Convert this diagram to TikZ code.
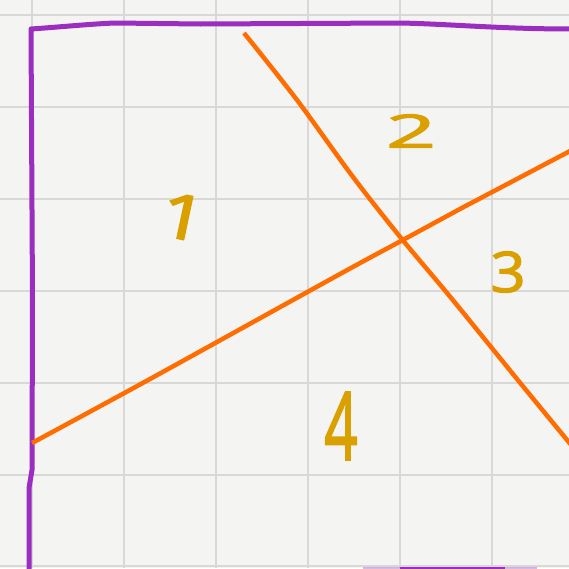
\documentclass[tikz,border=0pt]{standalone}
\usepackage{fontspec}
\setmainfont{Open Sans}
\newfontfamily\hand[FakeBold=2.2]{Open Sans}
\definecolor{paper}{HTML}{F4F4F2}
\definecolor{gridc}{HTML}{D8D8D6}
\definecolor{frame}{HTML}{9B2DC0}
\definecolor{cut}{HTML}{FF6C00}
\definecolor{lab}{HTML}{D9A000}
\begin{document}
\begin{tikzpicture}[x=1pt,y=-1pt,
  gridline/.style={draw=gridc,line width=2.4pt},
  frameline/.style={draw=frame,line width=5pt,line cap=round,line join=round},
  cutline/.style={draw=cut,line width=4.5pt,line cap=butt},
  digit/.style={text=lab,inner sep=0pt,transform shape}]
\path[fill=paper] (0,0) rectangle (569,568);
\useasboundingbox (0,0) rectangle (569,568);
% grid
\foreach \gx in {32,124,216,308,400,492}
  \draw[gridline] (\gx,0) -- (\gx,568);
\foreach \gy in {15,107,199,291,383,475,566}
  \draw[gridline] (0,\gy) -- (569,\gy);
% frame
\draw[frameline] (29,570) -- (29,488) -- (32,470) -- (32.5,300) -- (31,29)
  .. controls (60,27) and (90,24) .. (115,23) -- (200,24) -- (400,23)
  .. controls (450,24) and (500,29) .. (572,29);
\draw[draw=frame,line width=3pt,opacity=0.35] (363,568) -- (400,568);
\draw[draw=frame,line width=3pt] (400,568) -- (505,568);
\draw[draw=frame,line width=3pt,opacity=0.35] (505,568) -- (537,568);
% cuts
\draw[cutline] plot[smooth,tension=0.5] coordinates {(244,33) (297,100) (353,177) (401,238) (452,299) (517,379) (572,446)};
\draw[cutline] plot[smooth,tension=0.5] coordinates {(32,443) (150,379) (340,274) (401,241) (460,209) (477,200) (572,150)};
% labels
\node[digit,font=\hand\fontsize{62}{62}\selectfont,rotate=-12,xscale=1.3] (l1) at (183,217) {1};
\node[digit,font=\hand\fontsize{46}{46}\selectfont,xscale=1.9] (l2) at (411,131) {2};
\node[digit,font=\hand\fontsize{56}{56}\selectfont,xscale=1.1] (l3) at (508,272) {3};
\node[digit,font=\hand\fontsize{94}{94}\selectfont,xscale=0.62] (l4) at (341,426) {4};
\end{tikzpicture}
\end{document}
